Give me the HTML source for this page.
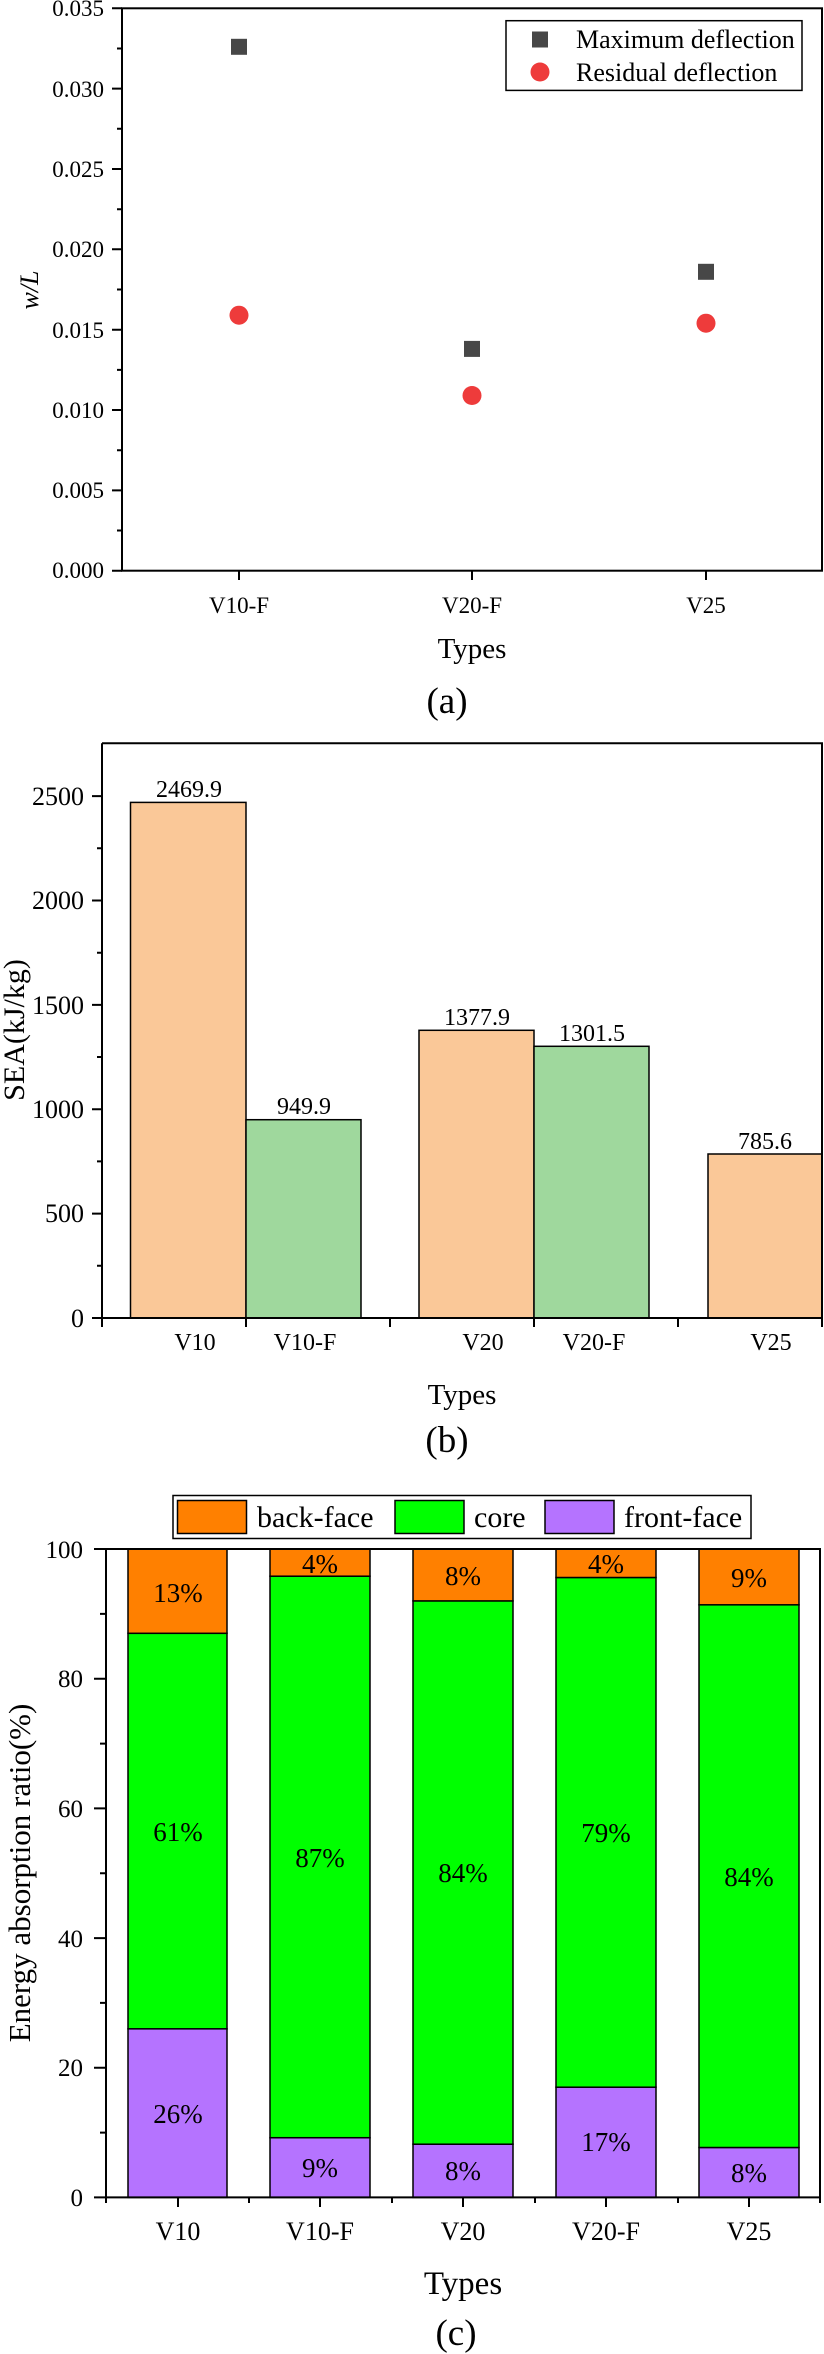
<!DOCTYPE html>
<html><head><meta charset="utf-8"><style>
html,body{margin:0;padding:0;background:#fff}
svg{display:block;font-family:"Liberation Serif",serif}
</style></head><body>
<svg width="824" height="2354" viewBox="0 0 824 2354" xmlns="http://www.w3.org/2000/svg">
<!-- ===== (a) ===== -->
<g stroke="#000" stroke-width="2" fill="none">
<rect x="122" y="8.3" width="700" height="562.4"/>
<path d="M112 570.7H122M112 490.4H122M112 410H122M112 329.7H122M112 249.3H122M112 169H122M112 88.6H122M112 8.3H122"/>
<path d="M117 530.5H122M117 450.2H122M117 369.9H122M117 289.5H122M117 209.2H122M117 128.8H122M117 48.5H122"/>
<path d="M239 570.7V580M472 570.7V580M706 570.7V580"/>
</g>
<g font-size="23" text-anchor="end">
<text x="104" y="578">0.000</text><text x="104" y="498">0.005</text><text x="104" y="418">0.010</text>
<text x="104" y="338">0.015</text><text x="104" y="257">0.020</text><text x="104" y="177">0.025</text>
<text x="104" y="97">0.030</text><text x="104" y="16">0.035</text>
</g>
<g font-size="23" text-anchor="middle">
<text x="239" y="613">V10-F</text><text x="472" y="613">V20-F</text><text x="706" y="613">V25</text>
<text x="472" y="658" font-size="29">Types</text>
<text x="447" y="713" font-size="37">(a)</text>
<text transform="translate(38,290) rotate(-90)" font-size="26" font-style="italic">w/L</text>
</g>
<g fill="#474747">
<rect x="231" y="38.8" width="16" height="16"/>
<rect x="464" y="340.9" width="16" height="16"/>
<rect x="698" y="263.8" width="16" height="16"/>
<rect x="532" y="31.5" width="16" height="16"/>
</g>
<g fill="#EE3B3B">
<circle cx="239" cy="315.2" r="9.5"/><circle cx="472" cy="395.5" r="9.5"/><circle cx="706" cy="323.2" r="9.5"/>
<circle cx="540" cy="72" r="9.5"/>
</g>
<rect x="506" y="20.7" width="296" height="69.7" fill="none" stroke="#000" stroke-width="1.5"/>
<g font-size="26"><text x="576" y="48">Maximum deflection</text><text x="576" y="81">Residual deflection</text></g>

<!-- ===== (b) ===== -->
<g stroke="#000" stroke-width="1.5">
<rect x="130.5" y="802.4" width="115.5" height="515.6" fill="#FAC898"/>
<rect x="246" y="1119.7" width="115" height="198.3" fill="#9FD89D"/>
<rect x="419" y="1030.3" width="115" height="287.7" fill="#FAC898"/>
<rect x="534" y="1046.3" width="115" height="271.7" fill="#9FD89D"/>
<rect x="708" y="1154" width="114" height="164" fill="#FAC898"/>
</g>
<g stroke="#000" stroke-width="2" fill="none">
<path d="M102 743.3V1318H822V743.3H102"/>
<path d="M92 1318H102M92 1213.6H102M92 1109.2H102M92 1004.9H102M92 900.5H102M92 796.1H102"/>
<path d="M97 1265.8H102M97 1161.4H102M97 1057H102M97 952.7H102M97 848.3H102"/>
<path d="M102 1318V1327M246 1318V1327M390 1318V1327M534 1318V1327M678 1318V1327M822 1318V1327"/>
</g>
<g font-size="26" text-anchor="end">
<text x="84" y="1327">0</text><text x="84" y="1222">500</text><text x="84" y="1118">1000</text>
<text x="84" y="1014">1500</text><text x="84" y="909">2000</text><text x="84" y="805">2500</text>
</g>
<g font-size="24" text-anchor="middle">
<text x="189" y="797">2469.9</text><text x="304" y="1114">949.9</text>
<text x="477" y="1025">1377.9</text><text x="592" y="1041">1301.5</text><text x="765" y="1149">785.6</text>
<text x="195" y="1350">V10</text><text x="305" y="1350">V10-F</text><text x="483" y="1350">V20</text>
<text x="594" y="1350">V20-F</text><text x="771" y="1350">V25</text>
<text x="462" y="1404" font-size="29">Types</text>
<text x="447" y="1452" font-size="37">(b)</text>
<text transform="translate(24,1030) rotate(-90)" font-size="30">SEA(kJ/kg)</text>
</g>

<!-- ===== (c) ===== -->
<g stroke="#000" stroke-width="1.5">
<rect x="128" y="2028.8" width="99" height="168.6" fill="#B573FF"/>
<rect x="128" y="1633.3" width="99" height="395.5" fill="#00FF00"/>
<rect x="128" y="1549" width="99" height="84.3" fill="#FF8000"/>
<rect x="270" y="2137.7" width="100" height="59.7" fill="#B573FF"/>
<rect x="270" y="1576.2" width="100" height="561.5" fill="#00FF00"/>
<rect x="270" y="1549" width="100" height="27.2" fill="#FF8000"/>
<rect x="413" y="2144.2" width="100" height="53.2" fill="#B573FF"/>
<rect x="413" y="1600.9" width="100" height="543.3" fill="#00FF00"/>
<rect x="413" y="1549" width="100" height="51.9" fill="#FF8000"/>
<rect x="556" y="2087.2" width="100" height="110.2" fill="#B573FF"/>
<rect x="556" y="1577.5" width="100" height="509.7" fill="#00FF00"/>
<rect x="556" y="1549" width="100" height="28.5" fill="#FF8000"/>
<rect x="699" y="2147.5" width="100" height="49.9" fill="#B573FF"/>
<rect x="699" y="1604.8" width="100" height="542.7" fill="#00FF00"/>
<rect x="699" y="1549" width="100" height="55.8" fill="#FF8000"/>
</g>
<g stroke="#000" stroke-width="2" fill="none">
<path d="M106 1549V2197.4H820V1549H106"/>
<path d="M94 2197.4H106M94 2067.7H106M94 1938.1H106M94 1808.4H106M94 1678.7H106M94 1549H106"/>
<path d="M100 2132.6H106M100 2002.9H106M100 1873.2H106M100 1743.6H106M100 1613.9H106"/>
<path d="M178 2197.4V2207M320 2197.4V2207M463 2197.4V2207M606 2197.4V2207M749 2197.4V2207"/>
<path d="M106 2197.4V2203M249 2197.4V2203M392 2197.4V2203M535 2197.4V2203M678 2197.4V2203M820 2197.4V2203"/>
</g>
<g font-size="25" text-anchor="end">
<text x="83" y="2206">0</text><text x="83" y="2076">20</text><text x="83" y="1947">40</text>
<text x="83" y="1817">60</text><text x="83" y="1687">80</text><text x="83" y="1558">100</text>
</g>
<g font-size="27" text-anchor="middle">
<text x="178" y="1602">13%</text><text x="178" y="1841">61%</text><text x="178" y="2123">26%</text>
<text x="320" y="1573">4%</text><text x="320" y="1867">87%</text><text x="320" y="2177">9%</text>
<text x="463" y="1585">8%</text><text x="463" y="1882">84%</text><text x="463" y="2180">8%</text>
<text x="606" y="1573">4%</text><text x="606" y="1842">79%</text><text x="606" y="2151">17%</text>
<text x="749" y="1587">9%</text><text x="749" y="1886">84%</text><text x="749" y="2182">8%</text>
<g font-size="26">
<text x="178" y="2240">V10</text><text x="320" y="2240">V10-F</text><text x="463" y="2240">V20</text>
<text x="606" y="2240">V20-F</text><text x="749" y="2240">V25</text>
</g>
<text x="463" y="2294" font-size="33">Types</text>
<text x="456" y="2345" font-size="37">(c)</text>
<text transform="translate(30,1873) rotate(-90)" font-size="31">Energy absorption ratio(%)</text>
</g>
<rect x="173" y="1495.5" width="578" height="43" fill="none" stroke="#000" stroke-width="1.5"/>
<g stroke="#000" stroke-width="1.5">
<rect x="177.5" y="1500.5" width="69" height="33" fill="#FF8000"/>
<rect x="395" y="1500.5" width="69" height="33" fill="#00FF00"/>
<rect x="545" y="1500.5" width="69" height="33" fill="#B573FF"/>
</g>
<g font-size="30"><text x="257" y="1527">back-face</text><text x="474" y="1527">core</text><text x="624" y="1527">front-face</text></g>
</svg>
</body></html>
